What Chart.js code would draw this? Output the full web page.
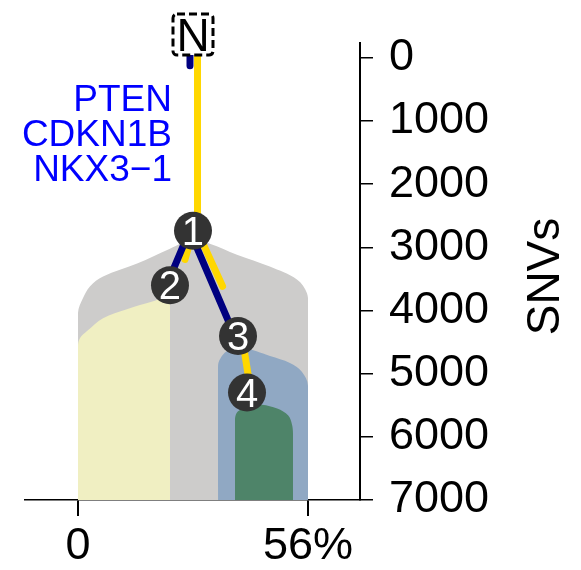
<!DOCTYPE html>
<html>
<head>
<meta charset="utf-8">
<script src="https://cdn.jsdelivr.net/npm/chart.js@4/dist/chart.umd.min.js"></script>
<style>
html,body{margin:0;padding:0;background:#fff;}
#wrap{width:581px;height:570px;position:relative;}
</style>
</head>
<body>
<div id="wrap"><canvas id="c"></canvas></div>
<script>
// ---------------- data ----------------
const xTicks = [0, 56];
const xTickLabels = ['0', '56%'];
const yTicks = [0, 1000, 2000, 3000, 4000, 5000, 6000, 7000];
const yTitle = 'SNVs';

const rootLabel = 'N';
const rootX = 28.0;
const rootY = -370;

const nodeIds = ['1', '2', '3', '4'];
const nodeX = [28.0, 22.4, 38.96, 41.15];
const nodeY = [2736, 3600, 4403, 5299];

const driverGenes = ['PTEN', 'CDKN1B', 'NKX3\u22121'];

// clone outlines (x in %, y in SNVs)
const clone1X = [0, 0, 1.2, 2.9, 6.1, 14.4, 22.4, 28.0, 32.1, 38.7, 46.7, 53.3, 55.75, 56, 56];
const clone1Y = [7000, 4043, 3807, 3618, 3461, 3256, 3020, 2879, 2942, 3115, 3303, 3508, 3728, 4043, 7000];
const clone2X = [0, 0, 0.5, 2.2, 6.1, 11.9, 18.3, 22.4, 22.4];
const clone2Y = [7000, 4562, 4436, 4326, 4121, 3980, 3854, 3791, 7000];
const clone3X = [34.1, 34.1, 34.6, 36.3, 40.2, 46.75, 51.6, 54.5, 56, 56];
const clone3Y = [7000, 4876, 4766, 4640, 4593, 4719, 4830, 4970, 5190, 7000];
const clone4X = [38.2, 38.2, 38.9, 41.9, 44.8, 48.5, 51.2, 52.1, 52.35, 52.35];
const clone4Y = [7000, 5742, 5600, 5506, 5490, 5553, 5663, 5805, 5962, 7000];

// branch segments [x0, y0, x1, y1]
const navyBranches = [
  [27.27, -79, 27.27, 126],
  [27.3, 2717, 21.7, 3582],
  [27.3, 2754, 38.3, 4421]
];
const goldBranches = [
  [29.1, -79, 29.1, 2736],
  [27.3, 2909, 26.05, 3192],
  [28.83, 2714, 35.2, 3616],
  [39.9, 4395, 42.1, 5292]
];

// ---------------- build ----------------
const FONT = "'Liberation Sans', Arial, Helvetica, sans-serif";
const pts = (xs, ys) => xs.map((v, i) => ({x: v, y: ys[i]}));

function area(xs, ys, color, order) {
  return {
    type: 'line', data: pts(xs, ys), order: order,
    backgroundColor: color, borderColor: 'rgba(0,0,0,0)', borderWidth: 0,
    pointRadius: 0, pointHoverRadius: 0, tension: 0.35,
    fill: {value: 7000}
  };
}
function seg(s, color) {
  return {
    type: 'line', data: [{x: s[0], y: s[1]}, {x: s[2], y: s[3]}], order: 1,
    borderColor: color, borderWidth: 7, borderCapStyle: 'round',
    pointRadius: 0, pointHoverRadius: 0, fill: false, tension: 0, clip: false
  };
}

const datasets = [
  {
    type: 'scatter', data: pts(nodeX, nodeY), order: 0,
    pointRadius: 19, pointHoverRadius: 19, pointBackgroundColor: '#333333',
    pointBorderWidth: 0, pointHoverBorderWidth: 0, clip: false
  },
  ...navyBranches.map(s => seg(s, '#000080')),
  ...goldBranches.map(s => seg(s, '#FFD700')),
  area(clone4X, clone4Y, '#4E8469', 2),
  area(clone3X, clone3Y, '#90A8C3', 3),
  area(clone2X, clone2Y, '#F0EFC2', 3),
  area(clone1X, clone1Y, '#CDCCCB', 4)
];

const annot = {
  id: 'annot',
  afterDatasetsDraw(chart) {
    const {ctx, scales: {x, y}} = chart;
    ctx.save();
    // node numbers
    const meta = chart.getDatasetMeta(0);
    ctx.fillStyle = '#ffffff';
    ctx.font = '40px ' + FONT;
    ctx.textAlign = 'center';
    ctx.textBaseline = 'alphabetic';
    meta.data.forEach((p, i) => {
      ctx.fillText(nodeIds[i], p.x, p.y + 14);
    });
    // root box
    const rx = x.getPixelForValue(rootX), ry = y.getPixelForValue(rootY);
    ctx.fillStyle = '#ffffff';
    ctx.beginPath();
    ctx.rect(rx - 20, ry - 20.5, 40, 41);
    ctx.fill();
    ctx.setLineDash([8, 4]);
    ctx.lineWidth = 3;
    ctx.strokeStyle = '#000000';
    ctx.beginPath();
    if (ctx.roundRect) ctx.roundRect(rx - 20, ry - 20.5, 40, 41, 4); else ctx.rect(rx - 20, ry - 20.5, 40, 41);
    ctx.stroke();
    ctx.setLineDash([]);
    ctx.fillStyle = '#000000';
    ctx.font = '46px ' + FONT;
    ctx.textAlign = 'center';
    ctx.fillText(rootLabel, rx, ry + 16.5);
    // driver genes
    ctx.fillStyle = '#0000FF';
    ctx.font = '37px ' + FONT;
    ctx.textAlign = 'right';
    const gx = rx - 21, gy = y.getPixelForValue(0) + 53;
    driverGenes.forEach((g, i) => ctx.fillText(g, gx, gy + i * 35));
    // y title
    ctx.fillStyle = '#000000';
    ctx.font = '46px ' + FONT;
    ctx.textAlign = 'center';
    ctx.translate(y.right - 22, (chart.chartArea.top + chart.chartArea.bottom) / 2 + 5);
    ctx.rotate(-Math.PI / 2);
    ctx.fillText(yTitle, 0, 0);
    ctx.restore();
  }
};

new Chart(document.getElementById('c'), {
  type: 'scatter',
  data: {datasets},
  options: {
    responsive: true, maintainAspectRatio: false, animation: false,
    events: [],
    layout: {padding: {left: 25, top: 40, right: 0, bottom: 0}},
    plugins: {legend: {display: false}, tooltip: {enabled: false}},
    scales: {
      x: {
        type: 'linear', position: 'bottom', min: -12.9, max: 68.66,
        afterBuildTicks: s => { s.ticks = xTicks.map(v => ({value: v})); },
        afterFit: s => { s.height = 70; },
        ticks: {
          autoSkip: false, maxRotation: 0, color: '#000', padding: 4,
          font: {family: FONT, size: 45},
          callback: (v, i) => xTickLabels[i]
        },
        grid: {drawOnChartArea: false, drawTicks: true, tickLength: 16, color: '#000', lineWidth: 2},
        border: {display: true, color: '#000', width: 1.5}
      },
      y: {
        type: 'linear', position: 'right', reverse: true, min: -236, max: 7000,
        afterBuildTicks: s => { s.ticks = yTicks.map(v => ({value: v})); },
        afterFit: s => { s.width = 221; },
        ticks: {
          autoSkip: false, color: '#000', padding: 16,
          font: {family: FONT, size: 45},
          callback: (v, i) => String(yTicks[i])
        },
        grid: {drawOnChartArea: false, drawTicks: true, tickLength: 13, color: '#000', lineWidth: 1.5},
        border: {display: true, color: '#000', width: 2}
      }
    }
  },
  plugins: [annot]
});
</script>
</body>
</html>
